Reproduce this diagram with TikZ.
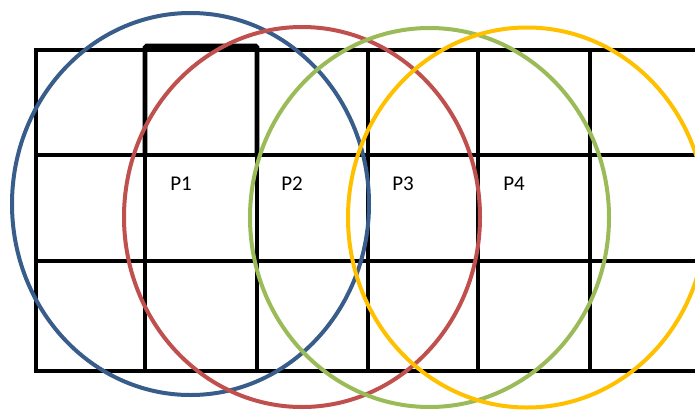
\documentclass[tikz,border=0pt]{standalone}
\usepackage{fontspec}
\setmainfont{Carlito}
\usepackage{tikz}
\usetikzlibrary{positioning}
\usepackage{xcolor}
\definecolor{ringblue}{HTML}{385D8A}
\definecolor{ringred}{HTML}{C0504D}
\definecolor{ringgreen}{HTML}{9BBB59}
\definecolor{ringgold}{HTML}{FFC000}
\tikzset{
  cellgrid/.style={draw=black,line width=4.6pt},
  raised/.style={draw=black,line width=4.6pt,rounded corners=1.5pt},
  ring/.style={line width=4pt},
  plabel/.style={font=\fontsize{21}{25}\selectfont,inner sep=0pt,text=black}
}

\begin{document}
\begin{tikzpicture}[x=1pt,y=-1pt]
      \useasboundingbox (0,0) rectangle (695,410);
      \clip (0,0) rectangle (695,410);
      % grid of cells
      \draw[cellgrid] (700,50) -- (36,50) -- (36,371) -- (700,371);
      \draw[cellgrid] (36,155) -- (700,155) (36,261) -- (700,261);
      \draw[cellgrid] (145,50) -- (145,371) (257,50) -- (257,371)
        (368,50) -- (368,371) (478,50) -- (478,371) (590,50) -- (590,371);
      \draw[raised] (145,155) -- (145,46) -- (257,46) -- (257,155);
      % overlapping rings
      \draw[ring,ringblue] (190.5,204) ellipse [x radius=178.5,y radius=191];
      \draw[ring,ringred] (302,217) ellipse [x radius=178,y radius=190];
      \draw[ring,ringgreen] (429.5,217.5) ellipse [x radius=179.5,y radius=189.5];
      \draw[ring,ringgold] (527,217.5) ellipse [x radius=179,y radius=190];
      % labels
      \node[plabel] (p1) at (181,184) {P1};
      \node[plabel] (p2) at (292,184) {P2};
      \node[plabel] (p3) at (403,184) {P3};
      \node[plabel] (p4) at (514,184) {P4};
    \end{tikzpicture}
\end{document}
